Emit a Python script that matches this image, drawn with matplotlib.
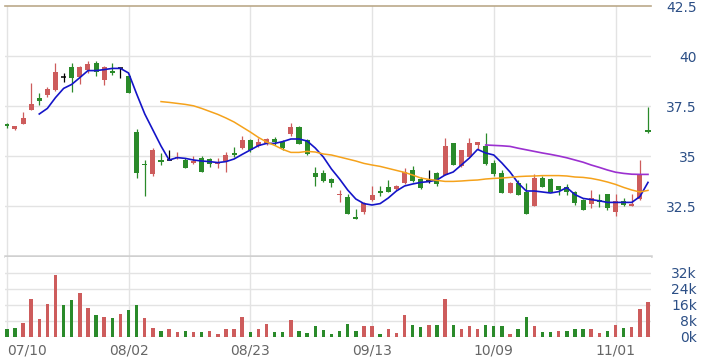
import matplotlib
matplotlib.use("Agg")
import matplotlib.pyplot as plt
import numpy as np

# ---------------- data ----------------
date_labels = ["07/10", "08/02", "08/23", "09/13", "10/09", "11/01"]
date_index = [0, 15, 30, 45, 60, 75]

opens = [36.60, 36.35, 36.60, 37.30, 37.88, 38.03, 38.30, 38.97, 39.47, 38.97,
         39.30, 39.63, 38.80, 39.25, 39.38, 39.02, 36.18, 34.60, 34.08, 34.80,
         34.80, 34.88, 34.80, 34.63, 34.88, 34.83, 34.58, 34.75, 35.17, 35.38,
         35.80, 35.52, 35.63, 35.85, 35.68, 36.08, 36.47, 35.80, 34.13, 34.17,
         33.85, 33.05, 32.97, 31.97, 32.18, 32.80, 33.25, 33.47, 33.33, 33.63,
         34.30, 33.83, 33.75, 34.13, 34.05, 35.63, 34.50, 34.97, 35.55, 35.50,
         34.67, 34.13, 33.17, 33.67, 33.18, 32.52, 33.88, 33.85, 33.48, 33.47,
         33.22, 32.80, 32.58, 32.80, 33.10, 32.22, 32.75, 32.52, 32.85, 36.30]
highs = [36.65, 36.50, 37.20, 38.65, 38.13, 38.43, 39.63, 39.13, 39.63, 39.50,
         39.75, 39.75, 39.50, 39.63, 39.40, 39.10, 36.35, 34.80, 35.38, 35.13,
         35.30, 35.22, 34.90, 35.02, 35.00, 34.90, 34.90, 35.18, 35.43, 36.02,
         35.85, 35.88, 35.92, 35.97, 35.78, 36.63, 36.50, 35.85, 34.47, 34.30,
         33.90, 33.30, 33.08, 32.33, 32.70, 33.52, 33.52, 33.80, 33.55, 34.38,
         34.50, 33.97, 34.30, 34.22, 35.88, 35.63, 35.30, 35.88, 35.72, 36.13,
         34.80, 34.30, 33.72, 33.78, 33.63, 34.10, 34.00, 33.90, 33.52, 33.58,
         33.25, 32.85, 33.30, 33.10, 33.10, 33.10, 32.88, 33.08, 34.80, 37.45]
lows = [36.40, 36.28, 36.60, 37.30, 37.55, 37.97, 38.25, 38.68, 38.22, 38.58,
        39.13, 39.02, 38.55, 39.05, 38.88, 38.13, 33.88, 33.02, 34.00, 34.55,
        34.78, 34.85, 34.38, 34.60, 34.18, 34.47, 34.38, 34.22, 34.93, 35.33,
        35.20, 35.45, 35.55, 35.55, 35.30, 36.00, 35.58, 35.05, 33.52, 33.72,
        33.47, 32.68, 32.08, 31.85, 32.08, 32.77, 33.02, 33.22, 33.28, 33.60,
        33.72, 33.33, 33.67, 33.52, 34.05, 34.55, 34.45, 34.97, 35.33, 34.55,
        34.00, 33.13, 33.17, 33.05, 32.08, 32.52, 33.43, 33.18, 33.05, 33.05,
        32.55, 32.30, 32.38, 32.45, 32.32, 32.02, 32.48, 32.52, 32.80, 36.15]
closes = [36.50, 36.48, 36.90, 37.60, 37.75, 38.33, 39.18, 38.97, 38.92, 39.47,
          39.60, 39.22, 39.47, 39.13, 39.38, 38.13, 34.13, 34.55, 35.30, 34.68,
          34.80, 34.97, 34.38, 34.75, 34.20, 34.58, 34.72, 35.05, 35.05, 35.80,
          35.30, 35.72, 35.85, 35.68, 35.38, 36.47, 35.58, 35.08, 33.97, 33.77,
          33.63, 33.10, 32.08, 31.85, 32.63, 33.05, 33.13, 33.22, 33.50, 34.22,
          33.77, 33.38, 33.75, 33.58, 35.50, 34.55, 35.30, 35.63, 35.68, 34.58,
          34.08, 33.13, 33.67, 33.05, 32.08, 33.88, 33.43, 33.22, 33.30, 33.18,
          32.63, 32.30, 32.88, 32.68, 32.38, 32.75, 32.55, 32.62, 34.08, 36.20]

# volume in thousands, and whether the volume bar is drawn as "up" (red)
volume_k = [3.8, 4.5, 7.0, 18.8, 8.8, 16.3, 30.8, 15.8, 18.3, 22.0,
            14.5, 10.8, 10.0, 9.5, 11.3, 13.3, 16.2, 9.5, 4.5, 2.8,
            3.8, 2.5, 3.0, 2.5, 2.5, 3.2, 1.7, 3.8, 3.8, 10.0,
            2.5, 3.8, 6.3, 2.5, 2.5, 8.3, 3.2, 2.0, 5.7, 3.6,
            1.5, 2.8, 6.7, 2.8, 5.3, 5.5, 1.7, 3.8, 2.2, 11.2,
            6.2, 5.0, 6.2, 6.2, 19.2, 6.2, 3.8, 5.5, 3.8, 6.2,
            5.5, 5.5, 1.3, 4.2, 10.0, 5.5, 2.5, 2.5, 2.8, 2.8,
            4.2, 3.8, 4.2, 2.2, 2.8, 6.2, 4.5, 5.0, 14.2, 17.5]
volume_up = [0, 0, 1, 1, 1, 1, 1, 0, 0, 1,
             1, 0, 1, 0, 1, 0, 0, 1, 1, 0,
             1, 1, 0, 1, 0, 1, 1, 1, 1, 1,
             0, 1, 1, 0, 0, 1, 0, 0, 0, 0,
             0, 0, 0, 0, 1, 1, 0, 1, 1, 1,
             0, 0, 1, 0, 1, 0, 1, 1, 1, 0,
             0, 0, 1, 0, 0, 1, 0, 0, 1, 0,
             0, 0, 1, 1, 0, 1, 0, 1, 1, 1]

# moving averages (start index, values)
ma5_start = 4
ma5 = [37.10, 37.38, 37.92, 38.38, 38.58, 38.92, 39.27, 39.27, 39.32, 39.38,
       39.38, 39.15, 38.10, 37.10, 36.30, 35.50, 34.80, 34.92, 34.88, 34.80,
       34.75, 34.72, 34.67, 34.72, 34.85, 35.08, 35.30, 35.52, 35.63, 35.63,
       35.72, 35.85, 35.85, 35.75, 35.40, 34.95, 34.35, 33.85, 33.30, 32.85,
       32.62, 32.55, 32.62, 32.90, 33.25, 33.50, 33.60, 33.68, 33.72, 33.80,
       34.05, 34.20, 34.55, 34.90, 35.33, 35.15, 35.05, 34.65, 34.20, 33.65,
       33.25, 33.25, 33.20, 33.15, 33.22, 33.42, 33.07, 32.88, 32.82, 32.76,
       32.68, 32.68, 32.68, 32.68, 32.97, 33.68]
ma20_start = 19
ma20 = [37.72, 37.68, 37.63, 37.58, 37.51, 37.38, 37.23, 37.08, 36.90, 36.70,
        36.45, 36.20, 35.93, 35.70, 35.53, 35.33, 35.18, 35.18, 35.23, 35.20,
        35.10, 35.05, 34.95, 34.85, 34.75, 34.63, 34.55, 34.48, 34.38, 34.28,
        34.18, 34.05, 33.90, 33.83, 33.78, 33.73, 33.73, 33.75, 33.78, 33.80,
        33.85, 33.88, 33.90, 33.93, 33.97, 33.99, 34.00, 34.02, 34.02, 34.02,
        34.00, 33.95, 33.93, 33.88, 33.80, 33.70, 33.58, 33.43, 33.30, 33.20,
        33.28]
ma60_start = 59
ma60 = [35.55, 35.53, 35.51, 35.48, 35.39, 35.31, 35.23, 35.15, 35.08, 35.00,
        34.91, 34.80, 34.69, 34.55, 34.43, 34.30, 34.19, 34.13, 34.09, 34.08,
        34.08]

price_ticks = [32.5, 35, 37.5, 40, 42.5]
price_tick_labels = ["32.5", "35", "37.5", "40", "42.5"]
vol_ticks = [0, 8, 16, 24, 32]
vol_tick_labels = ["0k", "8k", "16k", "24k", "32k"]

# ---------------- style ----------------
RED = "#cd5c5c"
GREEN = "#2a8a2a"
GRID = "#e3e3e3"
LABEL_BLUE = "#2c4f86"
LABEL_GRAY = "#666666"

W, H = 704, 358
fig = plt.figure(figsize=(W / 100, H / 100), dpi=100)


def rect(l, t, r, b):
    return [l / W, 1 - b / H, (r - l) / W, (b - t) / H]


ax = fig.add_axes(rect(5, 6, 651, 256))
axv = fig.add_axes(rect(5, 257, 651, 337), sharex=ax)

n = len(closes)
x = np.arange(n)
o = np.array(opens); h = np.array(highs); l = np.array(lows); c = np.array(closes)
up = c > o
down = c < o
doji = c == o

# wicks
wick_colors = np.where(up, RED, np.where(down, GREEN, "black"))
ax.vlines(x, l, h, colors=wick_colors, linewidth=0.9, zorder=3)
# bodies
body_w = 0.62
ax.bar(x[up], (c - o)[up], bottom=o[up], width=body_w, color=RED, linewidth=0, zorder=4)
ax.bar(x[down], (o - c)[down], bottom=c[down], width=body_w, color=GREEN, linewidth=0, zorder=4)
ax.hlines(o[doji], x[doji] - body_w / 2, x[doji] + body_w / 2, colors="black", linewidth=1.1, zorder=4)

# moving averages
ax.plot(np.arange(ma5_start, ma5_start + len(ma5)), ma5, color="#1414c8", lw=1.2, zorder=5)
ax.plot(np.arange(ma20_start, ma20_start + len(ma20)), ma20, color="#f5a21b", lw=1.1, zorder=5)
ax.plot(np.arange(ma60_start, ma60_start + len(ma60)), ma60, color="#9b30d0", lw=1.2, zorder=5)

# price axes styling
ax.set_ylim(30, 42.5)
px_per_bar = (648 - 6.8) / 79
ax.set_xlim(-1.8 / px_per_bar, 79 + 3 / px_per_bar)
for s in ["left", "right", "top"]:
    ax.spines[s].set_visible(False)
ax.spines["bottom"].set_color("#d0d0d0")
ax.spines["bottom"].set_linewidth(1.8)
ax.yaxis.tick_right()
ax.set_yticks(price_ticks)
ax.set_yticklabels(price_tick_labels)
ax.tick_params(axis="y", length=0, pad=33, labelsize=10, labelcolor=LABEL_BLUE)
for t in ax.get_yticklabels():
    t.set_ha("right")
ax.tick_params(axis="x", length=0, labelbottom=False)
for yv in price_ticks[:-1]:
    ax.axhline(yv, color=GRID, lw=1, zorder=0)
ax.axhline(42.5, color="#bba98a", lw=1.2, zorder=1, clip_on=False)
for xi in date_index:
    ax.axvline(xi, color=GRID, lw=1, zorder=0)

# volume
vol_colors = [RED if u else GREEN for u in volume_up]
axv.bar(x, volume_k, width=0.42, color=vol_colors, linewidth=0, zorder=3)
axv.set_ylim(0, 40)
for s in ["left", "right", "top", "bottom"]:
    axv.spines[s].set_visible(False)
axv.yaxis.tick_right()
axv.set_yticks(vol_ticks)
axv.set_yticklabels(vol_tick_labels)
axv.tick_params(axis="y", length=0, pad=33, labelsize=10, labelcolor=LABEL_BLUE)
for t in axv.get_yticklabels():
    t.set_ha("right")
for yv in vol_ticks:
    axv.axhline(yv, color=GRID, lw=1, zorder=0)
for xi in date_index:
    axv.axvline(xi, color=GRID, lw=1, zorder=0)
axv.set_xticks(date_index)
axv.set_xticklabels(date_labels)
axv.tick_params(axis="x", length=0, pad=5, labelsize=10, labelcolor=LABEL_GRAY)
axv.get_xticklabels()[0].set_ha("left")

fig.savefig("out.png", dpi=100)
